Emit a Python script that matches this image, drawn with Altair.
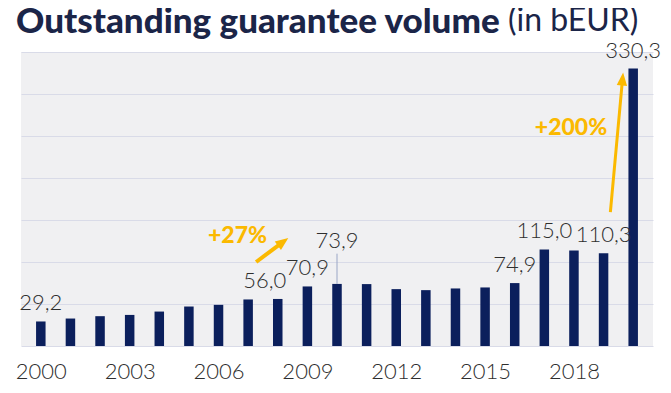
import altair as alt
import pandas as pd

# ---- data ----
years = list(range(2000, 2021))
values = [29.2, 32.7, 35.5, 37.0, 41.0, 47.0, 49.0, 55.4, 56.0, 70.9, 73.9,
          73.7, 67.7, 66.5, 68.5, 69.7, 74.9, 115.0, 113.8, 110.3, 330.3]
tick_years = [2000, 2003, 2006, 2009, 2012, 2015, 2018]
grid_values = [0, 50, 100, 150, 200, 250, 300, 350]

labeled_years = [2000, 2009, 2016, 2017, 2019, 2020]   # labels straight above bar
shifted_years = [2008]                                   # label nudged left
leader_years = [2010]                                    # label raised with leader line

arrow_x = [2007.27, 2019.23]
arrow_y = [100.0, 159.5]
arrow_x2 = [2008.18, 2019.64]
arrow_y2 = [124.0, 317.9]
arrow_angle = [53.5, 5.3]
arrow_width = [4.0, 3.0]
arrow_text = ["+27%", "+200%"]
arrow_text_x = [2006.64, 2017.90]
arrow_text_y = [130.4, 259.5]

title_main = "Outstanding guarantee volume"
title_unit = "(in bEUR)"

# ---- styles ----
BAR = "#0b1f5c"
NAVY = "#1b2548"
GOLD = "#fbb900"
TXT = "#2e2e2e"
FONT = "Lato"

df = pd.DataFrame({"year": years, "value": values})
df["label"] = [f"{v:.1f}".replace(".", ",") for v in values]

arrows = pd.DataFrame({
    "x": arrow_x, "y": arrow_y, "x2": arrow_x2, "y2": arrow_y2,
    "angle": arrow_angle, "w": arrow_width, "text": arrow_text,
    "tx": arrow_text_x, "ty": arrow_text_y,
})

xscale = alt.Scale(domain=[1999.5, 2020.5], nice=False, zero=False)
yscale = alt.Scale(domain=[0, 350], nice=False)

X = alt.X("year:Q", scale=xscale,
          axis=alt.Axis(values=tick_years, format="d", grid=False, ticks=False,
                        domain=False, labelFont=FONT, labelFontSize=22,
                        labelFontWeight=300, labelColor=TXT, labelPadding=15,
                        title=None))
Y = alt.Y("value:Q", scale=yscale,
          axis=alt.Axis(values=grid_values, labels=False, ticks=False, domain=False,
                        grid=True, gridColor="#d9dbe8", gridWidth=1, title=None))

base = alt.Chart(df)

bars = base.mark_bar(size=9.5, color=BAR).encode(x=X, y=Y)

text_style = dict(font=FONT, fontSize=22, fontWeight=300, color=TXT,
                  baseline="alphabetic", align="center")

labels = base.transform_filter(
    alt.FieldOneOfPredicate(field="year", oneOf=labeled_years)
).mark_text(dy=-11, **text_style).encode(x="year:Q", y="value:Q", text="label:N")

labels_shift = base.transform_filter(
    alt.FieldOneOfPredicate(field="year", oneOf=shifted_years)
).mark_text(dx=-13, dy=-11, **text_style).encode(x="year:Q", y="value:Q", text="label:N")

labels_lead = base.transform_filter(
    alt.FieldOneOfPredicate(field="year", oneOf=leader_years)
).mark_text(dy=-36, **text_style).encode(x="year:Q", y="value:Q", text="label:N")

leader = base.transform_filter(
    alt.FieldOneOfPredicate(field="year", oneOf=leader_years)
).transform_calculate(top="datum.value + 36").mark_rule(
    color="#9aa6c6", strokeWidth=1
).encode(x="year:Q", y="value:Q", y2="top:Q")

abase = alt.Chart(arrows)
shaft = abase.mark_rule(color=GOLD, strokeCap="butt").encode(
    x="x:Q", y="y:Q", x2="x2:Q", y2="y2:Q",
    strokeWidth=alt.StrokeWidth("w:Q", scale=None, legend=None))
head = abase.mark_point(shape="M0,-1L0.8,1L-0.8,1Z", filled=True, opacity=1,
                        color=GOLD, size=169).encode(
    x="x2:Q", y="y2:Q", angle=alt.Angle("angle:Q", scale=None))
atext = abase.mark_text(font=FONT, fontSize=23, fontWeight=900, color=GOLD,
                        align="center", baseline="middle").encode(
    x="tx:Q", y="ty:Q", text="text:N")

tdf = pd.DataFrame({"main": [title_main], "unit": [title_unit]})
t1 = alt.Chart(tdf).mark_text(font=FONT, fontSize=35, fontWeight=900, color=NAVY,
                              align="left", baseline="alphabetic").encode(
    x=alt.value(-5), y=alt.value(-19), text="main:N")
t2 = alt.Chart(tdf).mark_text(font=FONT, fontSize=32, fontWeight=400, color=NAVY,
                              align="left", baseline="alphabetic").encode(
    x=alt.value(487), y=alt.value(-21), text="unit:N")

chart = alt.layer(bars, leader, labels, labels_shift, labels_lead,
                  shaft, head, atext, t1, t2).properties(
    width=632, height=294,
    autosize=alt.AutoSizeParams(type="none"),
    padding={"left": 13, "top": 44, "right": 10, "bottom": 39},
    background="white",
).configure_view(fill="#f0f0f2", stroke=None)

chart.save("out.html", embed_options={"renderer": "svg", "actions": False})
